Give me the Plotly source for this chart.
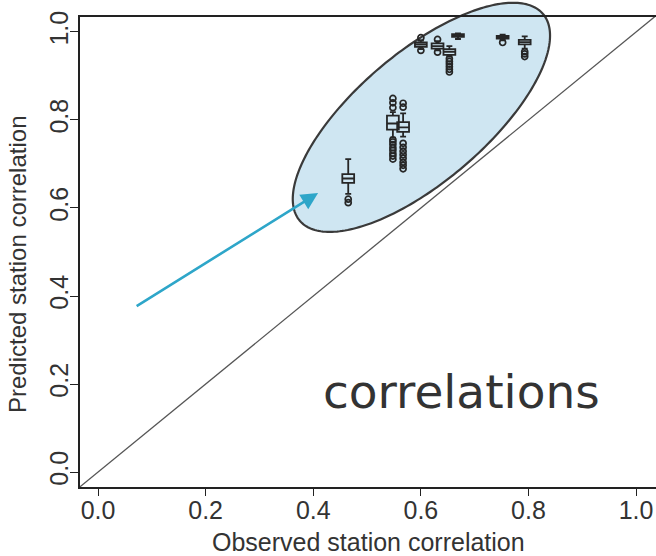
import numpy as np
import plotly.graph_objects as go

# ---- data ----
observed = [0.465, 0.548, 0.567, 0.600, 0.631, 0.653, 0.669, 0.752, 0.793]
lower_whisker = [0.632, 0.760, 0.762, 0.961, 0.958, 0.944, 0.984, 0.981, 0.962]
q1 = [0.657, 0.778, 0.773, 0.966, 0.962, 0.948, 0.989, 0.985, 0.972]
median = [0.667, 0.792, 0.783, 0.971, 0.968, 0.955, 0.992, 0.988, 0.977]
q3 = [0.677, 0.810, 0.795, 0.976, 0.974, 0.961, 0.995, 0.991, 0.982]
upper_whisker = [0.711, 0.818, 0.815, 0.981, 0.979, 0.968, 0.997, 0.994, 0.990]
outliers = [
    [0.612, 0.620],
    [0.828, 0.839, 0.849, 0.711, 0.718, 0.724, 0.731, 0.737, 0.744, 0.750, 0.755],
    [0.829, 0.838, 0.689, 0.697, 0.704, 0.713, 0.721, 0.729, 0.738, 0.747],
    [0.987, 0.958],
    [0.983, 0.954],
    [0.909, 0.915, 0.921, 0.927, 0.933, 0.939],
    [],
    [0.976],
    [0.944, 0.950, 0.955],
]
x_ticks = [0.0, 0.2, 0.4, 0.6, 0.8, 1.0]
y_ticks = [0.0, 0.2, 0.4, 0.6, 0.8, 1.0]
x_title = "Observed station correlation"
y_title = "Predicted station correlation"
note_text = "correlations"

# ellipse highlighting the cloud (center, two semi-axis vectors, data units)
ell_center = (0.601, 0.806)
ell_u = (0.226, 0.235)
ell_v = (-0.078, 0.112)
# arrow (tail -> tip)
arrow_tail = (0.069, 0.375)
arrow_tip = (0.409, 0.634)

X_RANGE = [-0.0335, 1.037]
Y_RANGE = [-0.034, 1.034]

fig = go.Figure()

fig.add_trace(go.Box(
    x=observed, q1=q1, median=median, q3=q3,
    lowerfence=lower_whisker, upperfence=upper_whisker,
    width=0.022, whiskerwidth=0.5, boxpoints=False,
    line=dict(color="#262626", width=1.8),
    fillcolor="rgba(0,0,0,0)", showlegend=False, hoverinfo="skip",
))

ox, oy = [], []
for xv, vals in zip(observed, outliers):
    for v in vals:
        ox.append(xv)
        oy.append(v)
fig.add_trace(go.Scatter(
    x=ox, y=oy, mode="markers",
    marker=dict(symbol="circle-open", size=6, color="#262626", line=dict(width=1.7)),
    showlegend=False, hoverinfo="skip",
))

# ellipse path in paper coordinates (so it may extend beyond the frame)
t = np.linspace(0, 2 * np.pi, 241)
ex = ell_center[0] + ell_u[0] * np.cos(t) + ell_v[0] * np.sin(t)
ey = ell_center[1] + ell_u[1] * np.cos(t) + ell_v[1] * np.sin(t)
px = (ex - X_RANGE[0]) / (X_RANGE[1] - X_RANGE[0])
py = (ey - Y_RANGE[0]) / (Y_RANGE[1] - Y_RANGE[0])
path = "M " + " L ".join(f"{a:.5f},{b:.5f}" for a, b in zip(px, py)) + " Z"
fig.add_shape(type="path", path=path, xref="paper", yref="paper",
              fillcolor="#cfe6f2", line=dict(color="#3a3a3a", width=2.2),
              layer="below")

# 1:1 line
fig.add_shape(type="line", x0=-0.05, y0=-0.05, x1=1.1, y1=1.1,
              xref="x", yref="y", line=dict(color="#555555", width=1.3))

fig.add_annotation(x=arrow_tip[0], y=arrow_tip[1], ax=arrow_tail[0], ay=arrow_tail[1],
                   xref="x", yref="y", axref="x", ayref="y", text="",
                   showarrow=True, arrowhead=2, arrowsize=1.3, arrowwidth=2.6,
                   arrowcolor="#2ea6c9")

fig.add_annotation(x=0.675, y=0.182, xref="x", yref="y", text=note_text,
                   showarrow=False, xanchor="center", yanchor="middle",
                   font=dict(family="DejaVu Sans", size=47, color="#333333"))

fig.add_annotation(x=(368 - 80) / 576, y=(487 - 542) / 470, xref="paper", yref="paper",
                   text=x_title, showarrow=False, xanchor="center", yanchor="middle",
                   font=dict(family="Liberation Sans", size=25, color="#333333"))
fig.add_annotation(x=(17 - 80) / 576, y=(487 - 264) / 470, xref="paper", yref="paper",
                   text=y_title, showarrow=False, xanchor="center", yanchor="middle",
                   textangle=-90,
                   font=dict(family="Liberation Sans", size=24, color="#333333"))

fig.update_xaxes(range=X_RANGE, tickvals=x_ticks, ticktext=[f"{v:.1f}" for v in x_ticks],
                 showgrid=False, zeroline=False, showline=True, mirror=True,
                 linecolor="#222222", linewidth=1.5, ticks="outside", ticklen=7,
                 ticklabelstandoff=-7,
                 tickcolor="#222222", tickfont=dict(family="Liberation Sans", size=25, color="#333333"))
fig.update_yaxes(range=Y_RANGE, tickvals=y_ticks, ticktext=[f"{v:.1f}" for v in y_ticks],
                 showgrid=False, zeroline=False, showline=True, mirror=False,
                 linecolor="#222222", linewidth=1.5, ticks="outside", ticklen=8,
                 ticklabelstandoff=-8,
                 tickcolor="#222222", tickangle=-90,
                 tickfont=dict(family="Liberation Sans", size=25, color="#333333"))

fig.update_layout(width=656, height=556, margin=dict(l=80, r=0, t=17, b=69),
                  paper_bgcolor="white", plot_bgcolor="white", showlegend=False)

fig.write_html("out.html")
